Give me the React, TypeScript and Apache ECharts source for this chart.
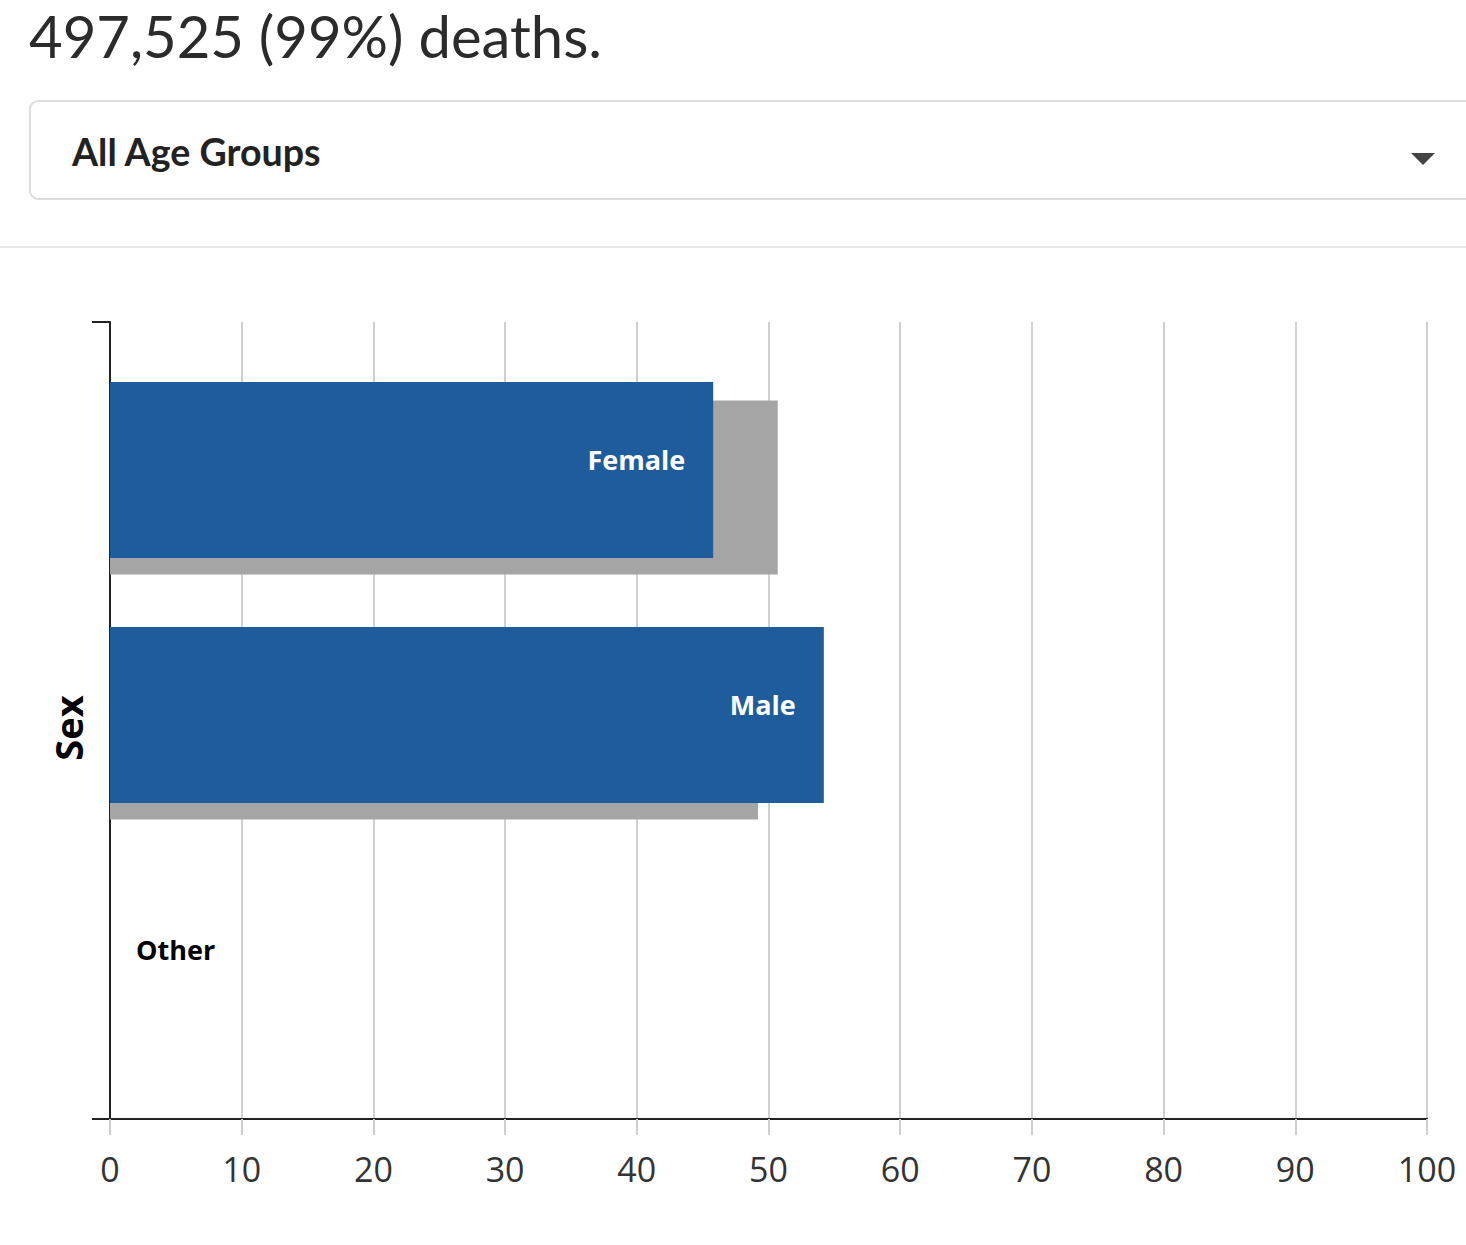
import React, { useEffect, useRef } from "react";
import * as echarts from "echarts";

const categories = ["Female", "Male", "Other"];
const currentValues = [45.8, 54.2, 0];
const comparisonValues = [50.7, 49.2, 0];
const xTicks = { min: 0, max: 100, interval: 10 };
const titleText = "497,525 (99%) deaths.";
const dropdownText = "All Age Groups";
const axisName = "Sex";

const BLUE = "#1f5c9b";
const GRAY = "#a5a5a5";

export default function App() {
  const ref = useRef<HTMLDivElement>(null);
  useEffect(() => {
    if (!ref.current) return;
    const chart = echarts.init(ref.current, undefined, { renderer: "svg" });
    const W = 1466;
    const left = 110;
    const right = W - 1427;
    const option: any = {
      animation: false,
      backgroundColor: "#ffffff",
      grid: [
        { left, right, top: 322, height: 797 },
        { left, right, top: 347.5, height: 735 },
        { left, right, top: 365, height: 735 },
      ],
      xAxis: [
        {
          type: "value",
          gridIndex: 0,
          min: xTicks.min,
          max: xTicks.max,
          interval: xTicks.interval,
          axisLine: { show: true, lineStyle: { color: "#222", width: 2 } },
          axisTick: { show: true, length: 16, lineStyle: { color: "#cfcfcf", width: 2 } },
          axisLabel: {
            show: true,
            margin: 33,
            fontSize: 34,
            fontFamily: "Open Sans",
            color: "#333",
          },
          splitLine: { show: true, lineStyle: { color: "#d0d0d0", width: 2 } },
        },
        { type: "value", gridIndex: 1, min: xTicks.min, max: xTicks.max, show: false },
        { type: "value", gridIndex: 2, min: xTicks.min, max: xTicks.max, show: false },
      ],
      yAxis: [
        {
          type: "value",
          gridIndex: 0,
          min: 0,
          max: 1,
          interval: 1,
          axisLine: { show: true, lineStyle: { color: "#222", width: 2 } },
          axisTick: { show: true, length: 18, lineStyle: { color: "#222", width: 2 } },
          axisLabel: { show: false },
          splitLine: { show: false },
        },
        { type: "category", gridIndex: 1, data: categories, inverse: true, show: false },
        { type: "category", gridIndex: 2, data: categories, inverse: true, show: false },
      ],
      series: [
        {
          type: "bar",
          xAxisIndex: 2,
          yAxisIndex: 2,
          data: comparisonValues,
          barWidth: 174,
          itemStyle: { color: GRAY },
          z: 2,
          silent: true,
        },
        {
          type: "bar",
          xAxisIndex: 1,
          yAxisIndex: 1,
          barWidth: 176,
          z: 3,
          itemStyle: { color: BLUE },
          label: {
            show: true,
            position: "insideRight",
            distance: 28,
            formatter: "{b}",
            color: "#ffffff",
            fontFamily: "Open Sans",
            fontWeight: "bold",
            fontSize: 27,
            offset: [0, -11],
          },
          data: currentValues.map((v) =>
            v === 0
              ? {
                  value: v,
                  label: { position: "right", distance: 26, color: "#000000" },
                }
              : v
          ),
        },
      ],
      graphic: [
        {
          type: "text",
          left: 29,
          top: 6,
          style: {
            text: titleText,
            fontFamily: "Lato",
            fontSize: 58,
            fill: "#2b2b2b",
          },
        },
        {
          type: "rect",
          shape: { x: 30, y: 101, width: 1480, height: 98, r: 8 },
          style: { fill: "#fff", stroke: "#dddddd", lineWidth: 2 },
        },
        {
          type: "text",
          x: 72,
          y: 151,
          style: {
            text: dropdownText,
            fontFamily: "Lato",
            fontWeight: "bold",
            fontSize: 37.6,
            fill: "#222",
            textVerticalAlign: "middle",
          },
        },
        {
          type: "polygon",
          shape: { points: [[1411, 153], [1435, 153], [1423, 165]] },
          style: { fill: "#444" },
        },
        {
          type: "line",
          shape: { x1: 0, y1: 247, x2: W, y2: 247 },
          style: { stroke: "#e6e6e6", lineWidth: 2 },
        },
        {
          type: "text",
          x: 68,
          y: 728,
          rotation: Math.PI / 2,
          style: {
            text: axisName,
            fontFamily: "Open Sans",
            fontWeight: "bold",
            fontSize: 38,
            fill: "#000",
            textAlign: "center",
            textVerticalAlign: "middle",
          },
        },
      ],
    };
    chart.setOption(option);
    return () => chart.dispose();
  }, []);
  return (
    <div
      ref={ref}
      style={{ position: "fixed", left: 0, top: 0, width: 1466, height: 1245 }}
    />
  );
}
